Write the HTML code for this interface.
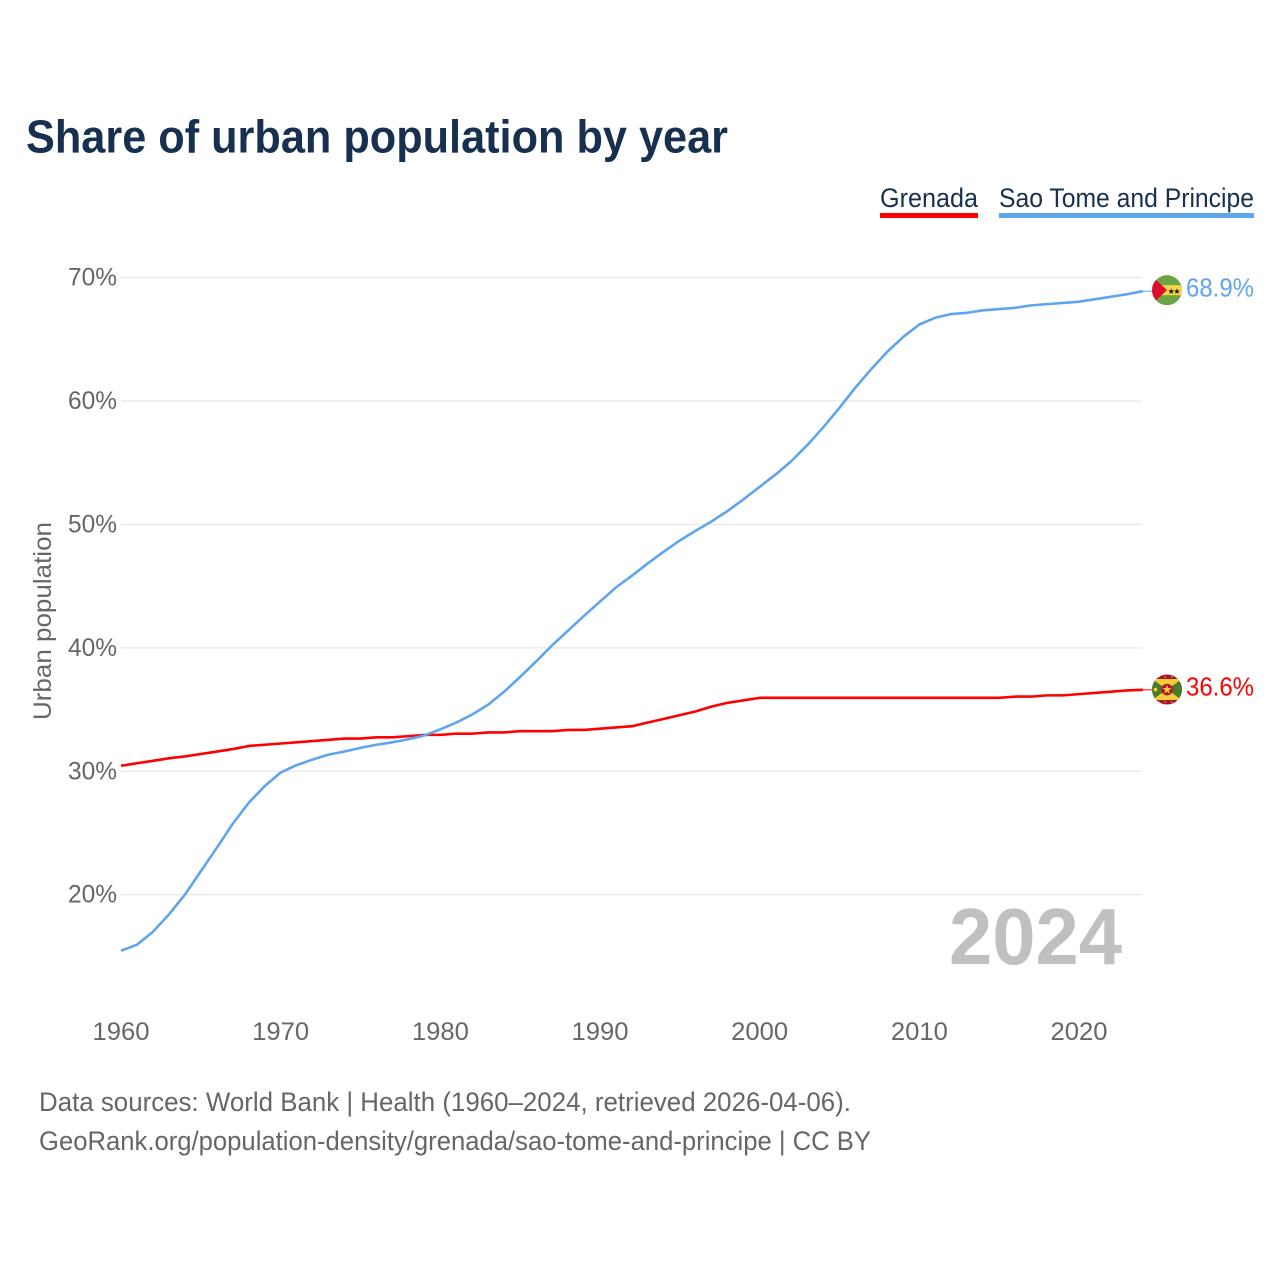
<!DOCTYPE html>
<html>
<head>
<meta charset="utf-8">
<title>Share of urban population by year</title>
<style>
html,body{margin:0;padding:0;background:#fff;}
svg{display:block;font-family:"Liberation Sans",sans-serif;}
</style>
</head>
<body>
<svg id="chart" width="1280" height="1280" viewBox="0 0 1280 1280" xmlns="http://www.w3.org/2000/svg">
  <defs>
    <clipPath id="clip-stp"><circle id="clip-stp-c" cx="1167" cy="290" r="15"/></clipPath>
    <clipPath id="clip-grd"><circle id="clip-grd-c" cx="1167" cy="689" r="15"/></clipPath>
  </defs>
  <rect width="1280" height="1280" fill="#fff"/>
  <text x="26" y="152.5" font-size="46" font-weight="bold" fill="#18304f" textLength="702" lengthAdjust="spacingAndGlyphs">Share of urban population by year</text>

  <g>
    <g>
      <text x="880" y="207" font-size="27" fill="#18304f" textLength="98" lengthAdjust="spacingAndGlyphs">Grenada</text>
      <rect x="880" y="213" width="98" height="5" fill="#ff0000"/>
    </g>
    <g>
      <text x="999" y="207" font-size="27" fill="#18304f" textLength="255" lengthAdjust="spacingAndGlyphs">Sao Tome and Principe</text>
      <rect x="999" y="213" width="255" height="5" fill="#5ea5ee"/>
    </g>
  </g>

  <g id="grid"></g>
  <g id="ytick-labels"></g>
  <g id="xtick-labels"></g>

  <text transform="translate(51 621) rotate(-90)" text-anchor="middle" font-size="25" fill="#666666" textLength="198" lengthAdjust="spacingAndGlyphs">Urban population</text>

  <text x="949" y="964" font-size="80" font-weight="bold" fill="#c0c0c0" textLength="173" lengthAdjust="spacingAndGlyphs">2024</text>

  <g id="series"></g>

  <g id="flag-stp" clip-path="url(#clip-stp)"></g>
  <g id="flag-grd" clip-path="url(#clip-grd)"></g>

  <text id="value-stp" x="1186" font-size="26" fill="#5ea5ee" textLength="68" lengthAdjust="spacingAndGlyphs"></text>
  <text id="value-grd" x="1186" font-size="26" fill="#ff0000" textLength="68" lengthAdjust="spacingAndGlyphs"></text>

  <g>
    <text x="39" y="1111" font-size="27" fill="#666666" textLength="812" lengthAdjust="spacingAndGlyphs">Data sources: World Bank | Health (1960–2024, retrieved 2026-04-06).</text>
    <text x="39" y="1150" font-size="27" fill="#666666" textLength="832" lengthAdjust="spacingAndGlyphs">GeoRank.org/population-density/grenada/sao-tome-and-principe | CC BY</text>
  </g>
</svg>
<script>
var years = [1960,1961,1962,1963,1964,1965,1966,1967,1968,1969,1970,1971,1972,1973,1974,1975,1976,1977,1978,1979,1980,1981,1982,1983,1984,1985,1986,1987,1988,1989,1990,1991,1992,1993,1994,1995,1996,1997,1998,1999,2000,2001,2002,2003,2004,2005,2006,2007,2008,2009,2010,2011,2012,2013,2014,2015,2016,2017,2018,2019,2020,2021,2022,2023,2024];
var grenada = [30.45,30.65,30.85,31.05,31.2,31.4,31.6,31.8,32.05,32.15,32.25,32.35,32.45,32.55,32.65,32.65,32.75,32.75,32.85,32.95,32.95,33.05,33.05,33.15,33.15,33.25,33.25,33.25,33.35,33.35,33.45,33.55,33.65,33.95,34.25,34.55,34.85,35.25,35.55,35.75,35.95,35.95,35.95,35.95,35.95,35.95,35.95,35.95,35.95,35.95,35.95,35.95,35.95,35.95,35.95,35.95,36.05,36.05,36.15,36.15,36.25,36.35,36.45,36.55,36.6];
var saoTome = [15.46,15.95,17.0,18.4,20.0,21.9,23.8,25.75,27.45,28.8,29.9,30.5,30.95,31.35,31.6,31.9,32.15,32.35,32.6,32.9,33.4,33.95,34.6,35.4,36.45,37.65,38.9,40.2,41.4,42.6,43.75,44.9,45.85,46.85,47.8,48.7,49.5,50.25,51.1,52.05,53.05,54.05,55.15,56.45,57.9,59.45,61.1,62.6,64.0,65.2,66.2,66.75,67.05,67.15,67.35,67.45,67.55,67.75,67.85,67.95,68.05,68.25,68.45,68.65,68.9];
var yTickValues = [20,30,40,50,60,70];
var xTickValues = [1960,1970,1980,1990,2000,2010,2020];

var NS = 'http://www.w3.org/2000/svg';
function xScale(year){ return 121 + (year - 1960) * 15.967; }
function yScale(v){ return 277.6 + (70 - v) * 12.342; }
function make(tag, attrs, parent){
  var el = document.createElementNS(NS, tag);
  for (var k in attrs) el.setAttribute(k, attrs[k]);
  parent.appendChild(el);
  return el;
}

var grid = document.getElementById('grid');
var ylab = document.getElementById('ytick-labels');
yTickValues.forEach(function(v){
  var line = make('line', {x1:121, x2:1142, y1:yScale(v), y2:yScale(v), stroke:'#e8e8e8', 'stroke-width':1.3}, grid);
  
  
  var t = make('text', {x:68, y:yScale(v)+8, 'font-size':25, fill:'#666666', textLength:49, lengthAdjust:'spacingAndGlyphs'}, ylab);
  
  
  t.textContent = v + '%';
});

var xlab = document.getElementById('xtick-labels');
xTickValues.forEach(function(y){
  var t = make('text', {x:xScale(y)-28.5, y:1040, 'font-size':25, fill:'#666666', textLength:57, lengthAdjust:'spacingAndGlyphs'}, xlab);
  
  
  t.textContent = y;
});

var seriesG = document.getElementById('series');
function drawSeries(values, color, name){
  var pts = values.map(function(v, i){ return xScale(years[i]).toFixed(2) + ',' + yScale(v).toFixed(2); }).join(' ');
  var p = make('polyline', {points:pts, fill:'none', stroke:color, 'stroke-width':2.6, 'stroke-linejoin':'round'}, seriesG);
  
  
  var last = yScale(values[values.length-1]);
  var stub = make('line', {x1:xScale(years[years.length-1]), x2:1152, y1:last, y2:last, stroke:color, 'stroke-width':1}, seriesG);
  
  
  return last;
}
var yG = drawSeries(grenada, '#ff0000', 'line-grenada');
var yS = drawSeries(saoTome, '#5ea5ee', 'line-sao-tome');

var cx = 1167, rS = yS - 1, rG = yG - 0.3;
document.getElementById('clip-stp-c').setAttribute('cy', rS);
document.getElementById('clip-grd-c').setAttribute('cy', rG);

var fs = document.getElementById('flag-stp');
make('rect', {x:1150, y:rS-16, width:34, height:32, fill:'#6aa545'}, fs);
make('rect', {x:1150, y:rS-5, width:34, height:10, fill:'#f8d648'}, fs);
make('polygon', {points:(cx-16)+','+(rS-15)+' '+cx+','+rS+' '+(cx-16)+','+(rS+15), fill:'#df0a2c'}, fs);
make('text', {x:cx+4.2, y:rS+3.6, 'font-size':8, 'text-anchor':'middle', fill:'#111', 'font-family':'DejaVu Sans, sans-serif'}, fs).textContent = '★';
make('text', {x:cx+10, y:rS+3.6, 'font-size':8, 'text-anchor':'middle', fill:'#111', 'font-family':'DejaVu Sans, sans-serif'}, fs).textContent = '★';

var fg = document.getElementById('flag-grd');
make('rect', {x:1150, y:rG-16, width:34, height:32, fill:'#a5162c'}, fg);
make('rect', {x:cx-15, y:rG-10.5, width:30, height:21, fill:'#f2cf3a'}, fg);
make('polygon', {points:(cx-15)+','+(rG-10.5)+' '+cx+','+rG+' '+(cx-15)+','+(rG+10.5), fill:'#4b7a2a'}, fg);
make('polygon', {points:(cx+15)+','+(rG-10.5)+' '+cx+','+rG+' '+(cx+15)+','+(rG+10.5), fill:'#4b7a2a'}, fg);
make('line', {x1:cx-9, x2:cx+9, y1:rG-12.5, y2:rG-12.5, stroke:'#f2cf3a', 'stroke-width':1, 'stroke-dasharray':'1.5 5'}, fg);
make('line', {x1:cx-9, x2:cx+9, y1:rG+12.5, y2:rG+12.5, stroke:'#f2cf3a', 'stroke-width':1, 'stroke-dasharray':'1.5 5'}, fg);
make('circle', {cx:cx, cy:rG, r:5.8, fill:'#b4162c'}, fg);
make('text', {x:cx, y:rG+4.2, 'font-size':12, 'text-anchor':'middle', fill:'#f6d13c', 'font-family':'DejaVu Sans, sans-serif'}, fg).textContent = '★';
make('circle', {cx:cx-11.5, cy:rG, r:1.8, fill:'#f2cf3a'}, fg);

var vs = document.getElementById('value-stp');
vs.setAttribute('y', yS + 5.5);
vs.textContent = saoTome[saoTome.length-1].toFixed(1) + '%';
var vg = document.getElementById('value-grd');
vg.setAttribute('y', yG + 5.5);
vg.textContent = grenada[grenada.length-1].toFixed(1) + '%';
</script>
</body>
</html>
